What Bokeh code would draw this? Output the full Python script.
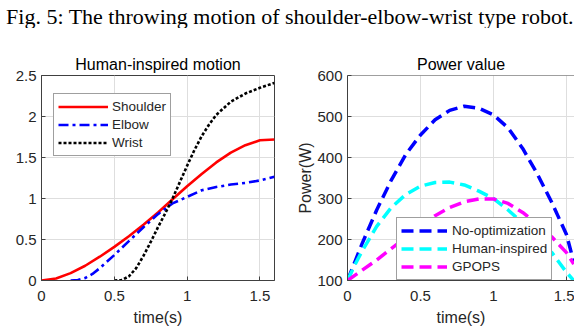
import math
from bokeh.plotting import figure
from bokeh.models import Label, Legend, LegendItem, FixedTicker, Span
from bokeh.layouts import column, row
from bokeh.embed import file_html
from bokeh.resources import INLINE

# ---------------- data ----------------
caption_text = "Fig. 5: The throwing motion of shoulder-elbow-wrist type robot."

left_title = "Human-inspired motion"
right_title = "Power value"

shoulder_t = [0, 0.1, 0.2, 0.3, 0.4, 0.5, 0.6, 0.7, 0.8, 0.9, 1.0, 1.1, 1.2, 1.3, 1.4, 1.5, 1.6]
shoulder = [0, 0.025, 0.09, 0.18, 0.29, 0.41, 0.54, 0.68, 0.83, 0.99, 1.15, 1.3, 1.44, 1.56, 1.65, 1.71, 1.72]

elbow_t = [0.2, 0.25, 0.3, 0.35, 0.4, 0.5, 0.6, 0.7, 0.8, 0.9, 1.0, 1.1, 1.2, 1.3, 1.4, 1.5, 1.6]
elbow = [0, 0.005, 0.03, 0.08, 0.15, 0.31, 0.48, 0.65, 0.81, 0.94, 1.02, 1.10, 1.14, 1.17, 1.19, 1.22, 1.265]

wrist_t = [0.5, 0.55, 0.6, 0.65, 0.7, 0.75, 0.8, 0.85, 0.9, 0.95, 1.0, 1.05, 1.1, 1.15, 1.2, 1.3, 1.4, 1.5, 1.6]
wrist = [0, 0.005, 0.05, 0.15, 0.3, 0.47, 0.65, 0.82, 1.0, 1.2, 1.4, 1.59, 1.76, 1.9, 2.02, 2.18, 2.28, 2.35, 2.41]

noopt_t = [0, 0.05, 0.1, 0.2, 0.3, 0.4, 0.5, 0.6, 0.7, 0.8, 0.9, 1.0, 1.1, 1.2, 1.3, 1.4, 1.5, 1.55]
noopt = [100, 145, 190, 272, 345, 408, 455, 492, 515, 525, 520, 504, 472, 422, 360, 290, 212, 145]

human_t = [0, 0.05, 0.1, 0.2, 0.3, 0.4, 0.5, 0.6, 0.7, 0.8, 0.9, 1.0, 1.1, 1.2, 1.3, 1.4, 1.5, 1.55]
human = [100, 138, 172, 232, 278, 310, 330, 339, 340, 333, 318, 300, 272, 240, 195, 168, 120, 100]

gpops_t = [0, 0.1, 0.2, 0.3, 0.4, 0.5, 0.6, 0.7, 0.8, 0.9, 1.0, 1.1, 1.2, 1.3, 1.4, 1.5, 1.55]
gpops = [100, 125, 150, 178, 205, 232, 258, 278, 292, 299, 299, 288, 266, 238, 206, 168, 140]

x_ticks = [0, 0.5, 1, 1.5]
x_tick_labels = ["0", "0.5", "1", "1.5"]
left_y_ticks = [0, 0.5, 1, 1.5, 2, 2.5]
left_y_tick_labels = ["0", "0.5", "1", "1.5", "2", "2.5"]
right_y_ticks = [100, 200, 300, 400, 500, 600]
right_y_tick_labels = ["100", "200", "300", "400", "500", "600"]

# ---------------- style ----------------
FONT = "Liberation Sans"
AX = "#404040"
TXT = "#262626"
GRID = "#dedede"


def style_axes(p):
    for ax in (p.xaxis[0], p.yaxis[0]):
        ax.axis_line_color = AX
        ax.major_tick_line_color = AX
        ax.major_tick_in = 4
        ax.major_tick_out = 0
        ax.minor_tick_line_color = None
        ax.major_label_text_font = FONT
        ax.major_label_text_font_size = "15px"
        ax.major_label_text_color = TXT
        ax.axis_label_text_font = FONT
        ax.axis_label_text_font_size = "16px"
        ax.axis_label_text_font_style = "normal"
        ax.axis_label_text_color = TXT
    p.xaxis[0].major_label_standoff = 10
    p.yaxis[0].major_label_standoff = 5
    p.xaxis[0].axis_label = "time(s)"
    p.xaxis[0].axis_label_standoff = 5
    p.grid.grid_line_color = GRID
    p.title.align = "center"
    p.title.text_font = FONT
    p.title.text_font_size = "16px"
    p.title.text_font_style = "normal"
    p.title.text_color = "black"
    p.title.standoff = 5
    p.background_fill_color = "white"
    p.border_fill_color = "white"


# ---------------- caption ----------------
cap = figure(width=574, height=28, x_range=(0, 1), y_range=(0, 1),
             x_axis_type=None, y_axis_type=None, min_border=0,
             toolbar_location=None, output_backend="svg")
cap.outline_line_color = None
cap.add_layout(Label(x=289.5, y=12.5, x_units="screen", y_units="screen",
                     text=caption_text, text_font="Liberation Serif",
                     text_font_size="22px", text_align="center",
                     text_baseline="alphabetic", text_color="black"))

# ---------------- left panel ----------------
p1 = figure(frame_width=233, frame_height=205, x_range=(0, 1.6), y_range=(0, 2.5),
            min_border_left=41, min_border_right=16, min_border_top=47, min_border_bottom=53,
            toolbar_location=None, output_backend="svg", title=left_title)
style_axes(p1)
p1.outline_line_color = AX
p1.xaxis[0].ticker = FixedTicker(ticks=x_ticks)
p1.xaxis[0].major_label_overrides = dict(zip(x_ticks, x_tick_labels))
p1.yaxis[0].ticker = FixedTicker(ticks=left_y_ticks)
p1.yaxis[0].major_label_overrides = dict(zip(left_y_ticks, left_y_tick_labels))

r_sh = p1.line(shoulder_t, shoulder, line_color="#ff0000", line_width=2.6)
r_el = p1.line(elbow_t, elbow, line_color="#0000ff", line_width=2.6, line_dash="10 4 3 4")
r_wr = p1.line(wrist_t, wrist, line_color="black", line_width=2.6, line_dash="3 2")

leg1 = Legend(items=[LegendItem(label="Shoulder", renderers=[r_sh]),
                     LegendItem(label="Elbow", renderers=[r_el]),
                     LegendItem(label="Wrist", renderers=[r_wr])],
              location=(12, 124), glyph_width=50, glyph_height=17, label_height=17,
              spacing=1, padding=4, margin=0, label_standoff=4,
              label_text_font=FONT, label_text_font_size="13.5px", label_text_color=TXT,
              border_line_color=AX, border_line_width=1,
              background_fill_color="white", background_fill_alpha=1)
p1.add_layout(leg1)

p1.add_layout(Label(x=-28, y=102, x_units="screen", y_units="screen",
                    text="Joint Angle(rad)", angle=math.pi / 2,
                    text_font=FONT, text_font_size="16px", text_color=TXT,
                    text_align="center", text_baseline="alphabetic"))

# ---------------- right panel ----------------
p2 = figure(frame_width=227, frame_height=205, x_range=(0, 1.555), y_range=(100, 600),
            min_border_left=57, min_border_right=0, min_border_top=47, min_border_bottom=53,
            toolbar_location=None, output_backend="svg", title=right_title)
style_axes(p2)
p2.title.offset = 4
p2.outline_line_color = None
p2.xaxis[0].ticker = FixedTicker(ticks=x_ticks)
p2.xaxis[0].major_label_overrides = dict(zip(x_ticks, x_tick_labels))
p2.yaxis[0].ticker = FixedTicker(ticks=right_y_ticks)
p2.yaxis[0].major_label_overrides = dict(zip(right_y_ticks, right_y_tick_labels))
p2.yaxis[0].axis_label = "Power(W)"
p2.yaxis[0].axis_label_standoff = 0
p2.add_layout(Span(location=600, dimension="width", line_color=AX, line_width=1))

r_no = p2.line(noopt_t, noopt, line_color="#0000ff", line_width=3.5, line_dash="12 6")
r_hu = p2.line(human_t, human, line_color="#00ffff", line_width=3.5, line_dash="12 6")
r_gp = p2.line(gpops_t, gpops, line_color="#ff00ff", line_width=3.5, line_dash="12 6")

leg2 = Legend(items=[LegendItem(label="No-optimization", renderers=[r_no]),
                     LegendItem(label="Human-inspired", renderers=[r_hu]),
                     LegendItem(label="GPOPS", renderers=[r_gp])],
              location=(49, 0), glyph_width=46, glyph_height=17, label_height=17,
              spacing=1, padding=4, margin=0, label_standoff=5,
              label_text_font=FONT, label_text_font_size="13.5px", label_text_color=TXT,
              border_line_color=AX, border_line_width=1,
              background_fill_color="white", background_fill_alpha=1)
p2.add_layout(leg2)

layout = column(cap, row(p1, p2))
open("out.html", "w").write(file_html(layout, INLINE))
